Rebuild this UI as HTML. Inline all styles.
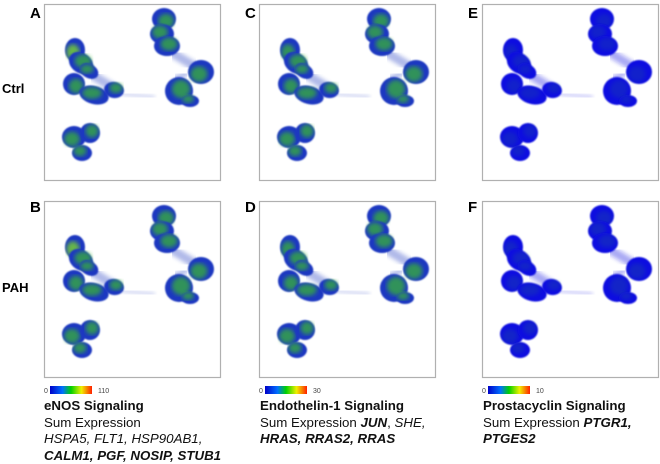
<!DOCTYPE html>
<html><head><meta charset="utf-8">
<style>
body{margin:0;background:#fff;width:660px;height:461px;overflow:hidden;font-family:"Liberation Sans",Arial,sans-serif;}
.t{position:absolute;color:#111;white-space:nowrap}
</style></head>
<body>
<svg id="fig" width="660" height="461" style="position:absolute;left:0;top:0">
<defs>
<linearGradient id="cb" x1="0" x2="1"><stop offset="0" stop-color="#0000c8"/><stop offset="0.3" stop-color="#0070ff"/><stop offset="0.5" stop-color="#00d000"/><stop offset="0.75" stop-color="#f0f000"/><stop offset="1" stop-color="#ff2000"/></linearGradient>
<filter id="bl"><feGaussianBlur stdDeviation="0.9"/></filter>
<filter id="bl2"><feGaussianBlur stdDeviation="2"/></filter>
</defs>
<g id="panels"></g>
<g font-family="Liberation Sans, Arial, sans-serif" font-weight="bold" fill="#000">
<text x="30" y="18" font-size="15">A</text>
<text x="30" y="212" font-size="15">B</text>
<text x="245" y="18" font-size="15">C</text>
<text x="245" y="212" font-size="15">D</text>
<text x="468" y="18" font-size="15">E</text>
<text x="468" y="212" font-size="15">F</text>
<text x="2" y="93" font-size="13">Ctrl</text>
<text x="2" y="292" font-size="13">PAH</text>
</g>
<g font-family="Liberation Sans, Arial, sans-serif" font-size="7" fill="#444">
<text x="44" y="393">0</text><rect x="50" y="386" width="42" height="8" fill="url(#cb)"/><text x="98" y="393">110</text>
<text x="259" y="393">0</text><rect x="265" y="386" width="42" height="8" fill="url(#cb)"/><text x="313" y="393">30</text>
<text x="482" y="393">0</text><rect x="488" y="386" width="42" height="8" fill="url(#cb)"/><text x="536" y="393">10</text>
</g>
</svg>
<div class="t" style="left:44px;top:398px;font-size:13.3px;line-height:16.5px">
<b>eNOS Signaling</b><br>Sum Expression<br><i>HSPA5, FLT1, HSP90AB1,</i><br><b><i>CALM1, PGF, NOSIP, STUB1</i></b></div>
<div class="t" style="left:260px;top:398px;font-size:13.3px;line-height:16.5px">
<b>Endothelin-1 Signaling</b><br>Sum Expression <b><i>JUN</i></b>, <i>SHE,</i><br><b><i>HRAS, RRAS2, RRAS</i></b></div>
<div class="t" style="left:483px;top:398px;font-size:13.3px;line-height:16.5px">
<b>Prostacyclin Signaling</b><br>Sum Expression <b><i>PTGR1,</i></b><br><b><i>PTGES2</i></b></div>
<script>
const panelNames=['a','b','c','d','e','f'];
const panelX=[44,44,259,259,482,482];
const panelY=[4,201,4,201,4,201];
const greenShare=[0.75,0.75,0.75,0.75,0.12,0.14];
// cluster ellipses relative to panel: cx,cy,rx,ry,rotation
const clusters=[[31,46,10,12,0],[37,59,13,10,35],[45,67,10,7,30],[30,80,11,11,0],[50,91,15,9,15],[70,86,10,8,10],[30,133,12,11,0],[46,129,10,10,0],[38,149,10,8,0],[120,15,12,11,0],[118,30,12,10,0],[123,42,13,10,0],[157,68,13,12,0],[135,87,14,14,0],[146,97,9,6,0]];
// sparse trails: x1,y1,x2,y2,width
const trails=[[50,72,76,88,9],[52,100,52,122,4],[130,50,150,62,9],[78,90,110,93,2],[132,74,142,70,5]];
const NS='http://www.w3.org/2000/svg';
const root=document.getElementById('panels');
panelNames.forEach((n,i)=>{
  const g=document.createElementNS(NS,'g');
  
  
  g.setAttribute('transform','translate('+panelX[i]+','+panelY[i]+')');
  const r=document.createElementNS(NS,'rect');
  r.setAttribute('x',0.5);r.setAttribute('y',0.5);r.setAttribute('width',176);r.setAttribute('height',176);
  r.setAttribute('fill','#fff');r.setAttribute('stroke','#b0b0b0');r.setAttribute('stroke-width','1.2');
  g.appendChild(r);
  const blue=greenShare[i]<0.3?'#1010e0':'#1e38c0';
  trails.forEach(t=>{
    const l=document.createElementNS(NS,'line');
    
    
    l.setAttribute('x1',t[0]);l.setAttribute('y1',t[1]);l.setAttribute('x2',t[2]);l.setAttribute('y2',t[3]);
    l.setAttribute('stroke',blue);l.setAttribute('stroke-width',t[4]);l.setAttribute('opacity','0.35');
    l.setAttribute('stroke-linecap','round');l.setAttribute('filter','url(#bl2)');
    g.appendChild(l);
  });
  clusters.forEach((c,k)=>{
    const e=document.createElementNS(NS,'ellipse');
    
    
    e.setAttribute('cx',c[0]);e.setAttribute('cy',c[1]);e.setAttribute('rx',c[2]);e.setAttribute('ry',c[3]);
    e.setAttribute('transform','rotate('+c[4]+' '+c[0]+' '+c[1]+')');
    e.setAttribute('fill',blue);e.setAttribute('filter','url(#bl)');
    g.appendChild(e);
    const e2=document.createElementNS(NS,'ellipse');
    
    
    e2.setAttribute('cx',c[0]+(k%2?2:-2));e2.setAttribute('cy',c[1]+(k%3?-2:2));
    e2.setAttribute('rx',c[2]*0.65);e2.setAttribute('ry',c[3]*0.65);
    e2.setAttribute('fill',(i<2&&k==0)?'#80e020':'#38b038');
    e2.setAttribute('opacity',greenShare[i]);e2.setAttribute('filter','url(#bl2)');
    g.appendChild(e2);
  });
  root.appendChild(g);
});
</script>
</body></html>
